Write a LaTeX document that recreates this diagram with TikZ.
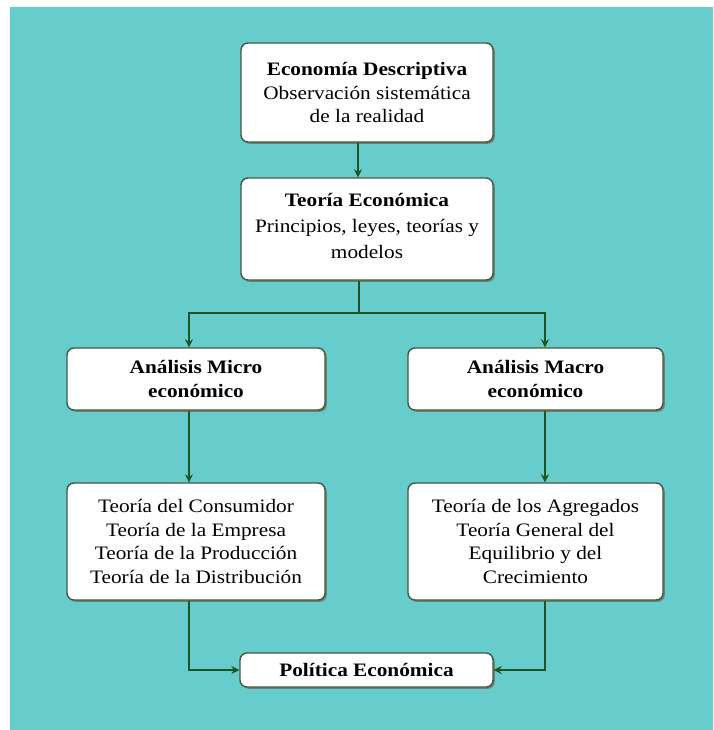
\documentclass[tikz,border=0pt]{standalone}
\usepackage{fontspec}
\setmainfont{Liberation Serif}[FakeStretch=1.12]
\usetikzlibrary{shadows,arrows.meta}
\definecolor{teal1}{HTML}{66CCCC}
\definecolor{boxline}{HTML}{3F5A42}
\definecolor{shadowc}{HTML}{6E7F70}
\definecolor{linkc}{HTML}{1F5524}
\tikzset{
  box/.style={draw=boxline, line width=1.4pt, fill=white, rounded corners=7pt,
    inner sep=0pt, align=center, font=\fontsize{19}{23.5}\selectfont,
    drop shadow={shadow xshift=1.8pt, shadow yshift=-1.8pt, fill=shadowc, opacity=1}},
  link/.style={draw=linkc, line width=2.5pt},
  arr/.style={link, -{Stealth[length=8pt,width=8pt]}}
}
\begin{document}
\begin{tikzpicture}[x=1pt,y=-1pt]
\useasboundingbox (0,0) rectangle (713,730);
\fill[white] (0,0) rectangle (713,730);
\fill[teal1] (10,7) rectangle (713,730);

\node[box, minimum width=252pt, minimum height=99pt] (b1) at (367,92.5)
  {\textbf{Economía Descriptiva}\\Observación sistemática\\de la realidad};
\node[box, minimum width=252pt, minimum height=102pt, text depth=6pt,
  font=\fontsize{19}{26}\selectfont] (b2) at (367,229)
  {\textbf{Teoría Económica}\\Principios, leyes, teorías y\\modelos};
\node[box, minimum width=258pt, minimum height=62pt] (b3) at (196,379)
  {\textbf{Análisis Micro}\\\textbf{económico}};
\node[box, minimum width=255pt, minimum height=62pt] (b4) at (535.5,379)
  {\textbf{Análisis Macro}\\\textbf{económico}};
\node[box, minimum width=258pt, minimum height=117pt] (b5) at (196,541.5)
  {Teoría del Consumidor\\Teoría de la Empresa\\Teoría de la Producción\\Teoría de la Distribución};
\node[box, minimum width=255pt, minimum height=117pt] (b6) at (535.5,541.5)
  {Teoría de los Agregados\\Teoría General del\\Equilibrio y del\\Crecimiento};
\node[box, minimum width=253pt, minimum height=34pt] (b7) at (366.5,670)
  {\textbf{Política Económica}};

\coordinate (t1) at (358,0);
\coordinate (jt) at (359,313);
\coordinate (jl) at (189,313);
\coordinate (jr) at (545,313);

\draw[arr] (b1.south -| t1) -- (b2.north -| t1);
\draw[link] (b2.south -| jt) -- (jt);
\draw[link, line cap=rect] (jl) -- (jr);
\draw[arr] (jl) -- (b3.north -| jl);
\draw[arr] (jr) -- (b4.north -| jr);
\draw[arr] (b3.south -| jl) -- (b5.north -| jl);
\draw[arr] (b4.south -| jr) -- (b6.north -| jr);
\draw[arr] (b5.south -| jl) |- (b7.west);
\draw[arr] (b6.south -| jr) |- (b7.east);
\end{tikzpicture}
\end{document}
